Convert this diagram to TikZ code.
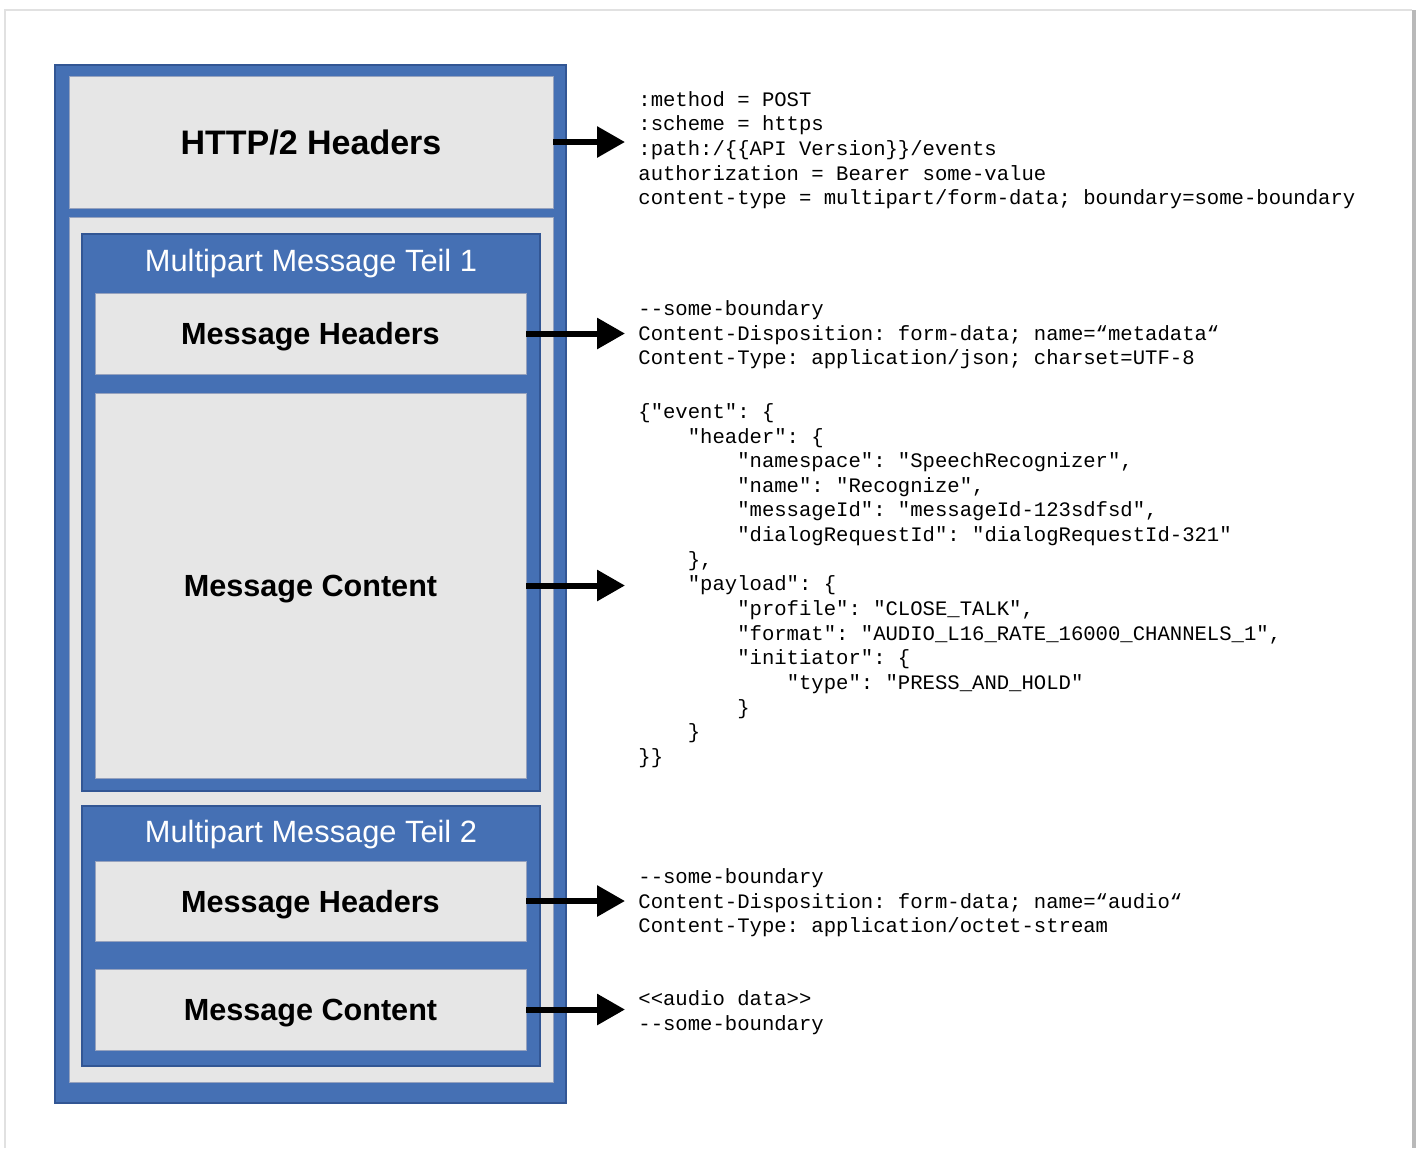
\documentclass[tikz,border=0pt]{standalone}
\usepackage{fontspec}
\setmainfont{Liberation Sans}
\setmonofont{Liberation Mono}
\usetikzlibrary{arrows.meta, positioning}
\definecolor{PartBlue}{RGB}{69,112,180}
\definecolor{PartEdge}{RGB}{50,86,148}
\definecolor{BoxGray}{RGB}{230,230,230}
\definecolor{BoxEdge}{RGB}{150,162,190}
\definecolor{PageLine}{RGB}{225,225,225}

\begin{document}
\begin{tikzpicture}[x=0.5pt, y=-0.5pt,
  blueframe/.style={draw=PartEdge, line width=0.6pt, fill=PartBlue, inner sep=0pt, outer sep=0pt},
  graybox/.style={draw=BoxEdge, line width=0.5pt, fill=BoxGray, inner sep=0pt, outer sep=0pt,
    text depth=0pt, font=\fontsize{15.3}{18}\selectfont\bfseries},
  parttitle/.style={text=white, inner sep=0pt, font=\fontsize{15.4}{18}\selectfont},
  codetext/.style={anchor=north west, inner sep=0pt, align=left,
    font=\ttfamily\fontsize{10.3}{12.33}\selectfont},
  toarrow/.style={line width=3pt, -{Triangle[length=14pt, width=15pt]}, shorten >=6.5pt}]
  \useasboundingbox (0,0) rectangle (1417,1148);
  % page
  \fill[white] (0,0) rectangle (1417,1148);
  \draw[PageLine, line width=0.6pt] (5,1148) -- (5,10) -- (1412,10);
  \fill[gray!55] (1412,10) rectangle (1416,1148);

  % message frame
  \node[blueframe, minimum width=255.5pt, minimum height=519pt] (outer) at (310.5,584) {};
  \node[graybox, minimum width=242pt, minimum height=66pt, font=\fontsize{17}{20}\selectfont\bfseries] (http) at (311,142) {HTTP/2 Headers};
  \node[graybox, minimum width=242pt, minimum height=432.5pt] (body) at (311,649.5) {};

  % part 1
  \node[blueframe, minimum width=229pt, minimum height=278.5pt] (part1) at (311,512.5) {};
  \node[parttitle] (title1) at (311,264) {Multipart Message Teil 1};
  \node[graybox, minimum width=215.5pt, minimum height=40.5pt] (head1) at (310.5,333.5) {Message Headers};
  \node[graybox, minimum width=215.5pt, minimum height=192.5pt] (cont1) at (310.5,585.5) {Message Content};

  % part 2
  \node[blueframe, minimum width=229pt, minimum height=130pt] (part2) at (311,936) {};
  \node[parttitle] (title2) at (311,835) {Multipart Message Teil 2};
  \node[graybox, minimum width=215.5pt, minimum height=40pt] (head2) at (310.5,901) {Message Headers};
  \node[graybox, minimum width=215.5pt, minimum height=40.5pt] (cont2) at (310.5,1009.5) {Message Content};

  % code listings
  \node[codetext] (txthttp) at (638,91) {:method = POST\\
    :scheme = https\\
    :path:/\{\{API Version\}\}/events\\
    authorization = Bearer some-value\\
    content-type = multipart/form-data; boundary=some-boundary};
  \node[codetext] (txtmeta) at (638,300) {-{}-some-boundary\\
    Content-Disposition: form-data; name=“metadata“\\
    Content-Type: application/json; charset=UTF-8};
  \node[codetext] (txtjson) at (638,403) {\{"event": \{\\
    ~~~~"header": \{\\
    ~~~~~~~~"namespace": "SpeechRecognizer",\\
    ~~~~~~~~"name": "Recognize",\\
    ~~~~~~~~"messageId": "messageId-123sdfsd",\\
    ~~~~~~~~"dialogRequestId": "dialogRequestId-321"\\
    ~~~~\},\\
    ~~~~"payload": \{\\
    ~~~~~~~~"profile": "CLOSE\_TALK",\\
    ~~~~~~~~"format": "AUDIO\_L16\_RATE\_16000\_CHANNELS\_1",\\
    ~~~~~~~~"initiator": \{\\
    ~~~~~~~~~~~~"type": "PRESS\_AND\_HOLD"\\
    ~~~~~~~~\}\\
    ~~~~\}\\
    \}\}};
  \node[codetext] (txtaudio) at (638,868) {-{}-some-boundary\\
    Content-Disposition: form-data; name=“audio“\\
    Content-Type: application/octet-stream};
  \node[codetext] (txtdata) at (638,990) {<{}<audio data>{}>\\
    -{}-some-boundary};

  % arrows
  \draw[toarrow] (http.east) -- (http.east -| txthttp.west);
  \draw[toarrow] (head1.east) -- (head1.east -| txtmeta.west);
  \draw[toarrow] (cont1.east) -- (cont1.east -| txtjson.west);
  \draw[toarrow] (head2.east) -- (head2.east -| txtaudio.west);
  \draw[toarrow] (cont2.east) -- (cont2.east -| txtdata.west);
\end{tikzpicture}
\end{document}
